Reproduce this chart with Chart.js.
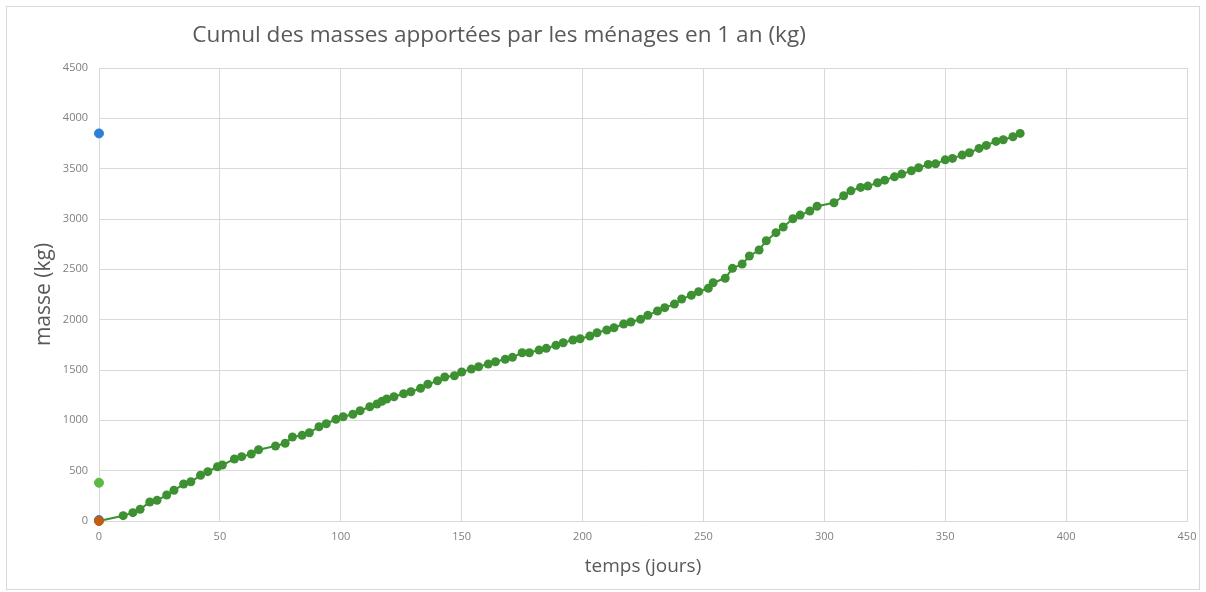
<!DOCTYPE html>
<html>
<head>
<meta charset="utf-8">
<script src="https://cdn.jsdelivr.net/npm/chart.js@4.4.1/dist/chart.umd.min.js"></script>
<style>
  html, body { margin: 0; padding: 0; background: #ffffff; }
  #wrap { width: 1206px; height: 592px; position: relative; }
</style>
</head>
<body>
<div id="wrap"><canvas id="c" width="1206" height="592"></canvas></div>
<script>
// ---- Data ----
const chartTitle = "Cumul des masses apportées par les ménages en 1 an (kg)";
const xAxisTitle = "temps (jours)";
const yAxisTitle = "masse (kg)";

const days = [0, 10, 14, 17, 21, 24, 28, 31, 35, 38, 42, 45, 49, 51, 56, 59, 63, 66, 73, 77,
  80, 84, 87, 91, 94, 98, 101, 105, 108, 112, 115, 117, 119, 122, 126, 129, 133, 136, 140, 143,
  147, 150, 154, 157, 161, 164, 168, 171, 175, 178, 182, 185, 189, 192, 196, 199, 203, 206, 210, 213,
  217, 220, 224, 227, 231, 234, 238, 241, 245, 248, 252, 254, 259, 262, 266, 269, 273, 276, 280, 283,
  287, 290, 294, 297, 304, 308, 311, 315, 318, 322, 325, 329, 332, 336, 339, 343, 346, 350, 353, 357,
  360, 364, 367, 371, 374, 378, 381];
const masses = [0, 53, 83, 116, 189, 205, 258, 305, 367, 390, 454, 490, 539, 556, 616, 639, 665, 708, 745, 772,
  834, 851, 877, 936, 966, 1010, 1036, 1060, 1095, 1135, 1162, 1189, 1212, 1234, 1264, 1284, 1318, 1358, 1393, 1430,
  1443, 1480, 1509, 1532, 1559, 1582, 1606, 1626, 1671, 1671, 1698, 1715, 1745, 1771, 1798, 1810, 1838, 1870, 1897, 1920,
  1957, 1977, 2003, 2043, 2086, 2119, 2155, 2205, 2242, 2278, 2311, 2367, 2411, 2510, 2552, 2632, 2692, 2784, 2864, 2920,
  3002, 3039, 3079, 3127, 3161, 3231, 3280, 3314, 3327, 3360, 3386, 3419, 3446, 3479, 3509, 3542, 3548, 3588, 3602, 3635,
  3658, 3701, 3731, 3771, 3787, 3817, 3850];

// isolated points plotted at x = 0
const blueX = [0, 0];
const blueY = [3850, 10];
const lightGreenX = [0];
const lightGreenY = [380];
const orangeX = [0];
const orangeY = [0];

// axis ranges / ticks
const xMin = 0, xMax = 450, xStep = 50;
const yMin = 0, yMax = 4500, yStep = 500;

const toPts = (xs, ys) => xs.map((x, i) => ({ x: x, y: ys[i] }));

const FONT = "'Open Sans', 'Liberation Sans', sans-serif";
const TXT = "#595959";
const GRID = "#d9d9d9";

const framePlugin = {
  id: 'frame',
  beforeDraw(chart) {
    const ctx = chart.ctx;
    ctx.save();
    ctx.fillStyle = '#ffffff';
    ctx.fillRect(0, 0, chart.width, chart.height);
    ctx.strokeStyle = GRID;
    ctx.lineWidth = 1;
    ctx.strokeRect(6.5, 6.5, 1193, 583);
    ctx.restore();
  },
  afterDraw(chart) {
    const ctx = chart.ctx;
    ctx.save();
    let size = 20;
    ctx.font = size + "px " + FONT;
    const w = ctx.measureText(chartTitle).width;
    size = size * 614 / w;
    ctx.font = size.toFixed(2) + "px " + FONT;
    ctx.fillStyle = TXT;
    ctx.textAlign = 'center';
    ctx.textBaseline = 'middle';
    ctx.fillText(chartTitle, 499, 36);
    ctx.restore();
  }
};

new Chart(document.getElementById('c'), {
  type: 'scatter',
  data: {
    datasets: [
      { label: 'orange', data: toPts(orangeX, orangeY), backgroundColor: '#c55a11', borderColor: '#c55a11',
        pointRadius: 4.5, pointHoverRadius: 4.5, clip: false, order: 0 },
      { label: 'vert clair', data: toPts(lightGreenX, lightGreenY), backgroundColor: '#5cb847', borderColor: '#5cb847',
        pointRadius: 4.5, pointHoverRadius: 4.5, clip: false, order: 1 },
      { label: 'cumul', data: toPts(days, masses), showLine: true, borderColor: '#3d9132', backgroundColor: '#3d9132',
        borderWidth: 2, pointRadius: 4.5, pointHoverRadius: 4.5, pointBorderWidth: 0, clip: false, order: 2 },
      { label: 'bleu', data: toPts(blueX, blueY), backgroundColor: '#2b7fd6', borderColor: '#2b7fd6',
        pointRadius: 4.5, pointHoverRadius: 4.5, clip: false, order: 3 }
    ]
  },
  options: {
    responsive: false,
    animation: false,
    devicePixelRatio: 1,
    layout: { padding: { left: 0, right: 19, top: 68, bottom: 0 } },
    plugins: {
      legend: { display: false },
      title: { display: false },
      tooltip: { enabled: false }
    },
    scales: {
      x: {
        type: 'linear', min: xMin, max: xMax,
        afterFit(scale) { scale.height = 71; },
        ticks: { stepSize: xStep, color: '#7f7f7f', font: { family: FONT, size: 11 }, padding: 9,
          callback: (v) => String(v) },
        grid: { color: GRID, drawTicks: false },
        border: { color: GRID },
        title: { display: true, text: xAxisTitle, color: TXT, font: { family: FONT, size: 19 },
          padding: { top: 0, bottom: 14 } }
      },
      y: {
        type: 'linear', min: yMin, max: yMax,
        afterFit(scale) { scale.width = 99; },
        ticks: { stepSize: yStep, color: '#7f7f7f', font: { family: FONT, size: 11 }, padding: 11,
          callback: (v) => String(v) },
        grid: { color: GRID, drawTicks: false },
        border: { color: GRID },
        title: { display: true, text: yAxisTitle, color: TXT, font: { family: FONT, size: 21 },
          padding: { top: 31, bottom: 0 } }
      }
    }
  },
  plugins: [framePlugin]
});
</script>
</body>
</html>
